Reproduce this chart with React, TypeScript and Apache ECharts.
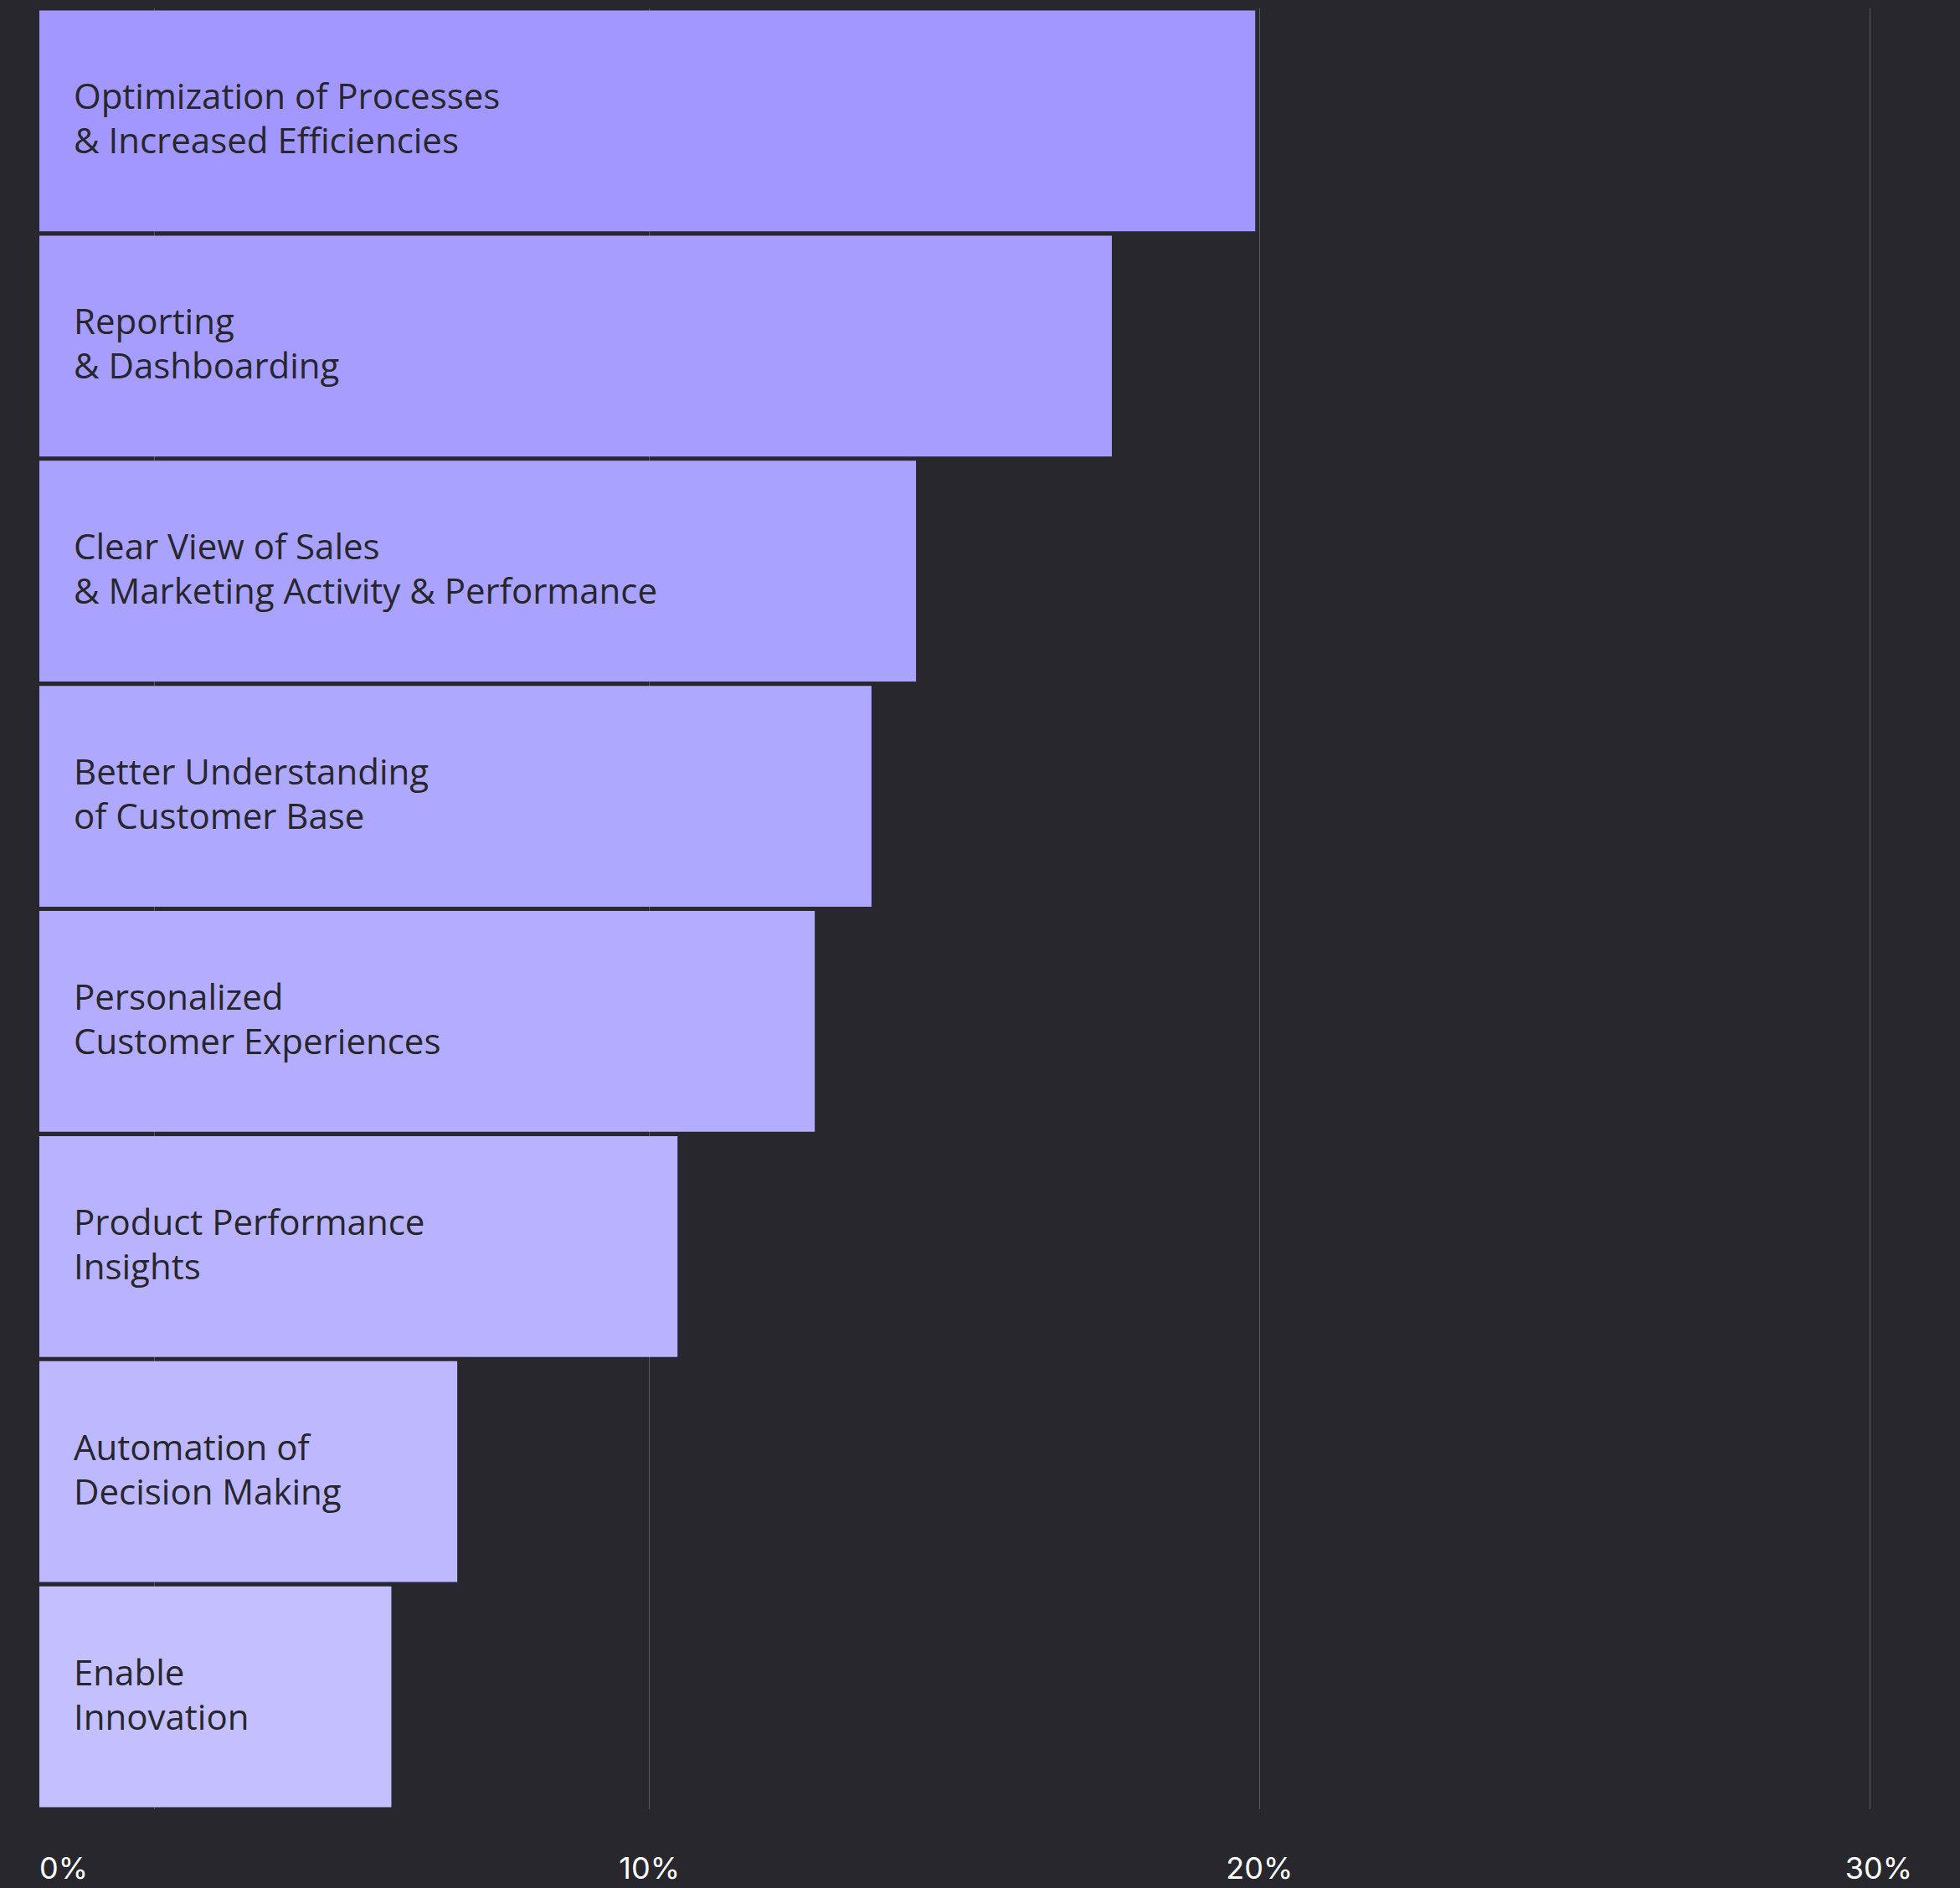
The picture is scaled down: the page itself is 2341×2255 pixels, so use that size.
import React, { useEffect, useRef } from "react";
import * as echarts from "echarts";

const categories = [
  "Optimization of Processes\n& Increased Efficiencies",
  "Reporting\n& Dashboarding",
  "Clear View of Sales\n& Marketing Activity & Performance",
  "Better Understanding\nof Customer Base",
  "Personalized\nCustomer Experiences",
  "Product Performance\nInsights",
  "Automation of\nDecision Making",
  "Enable\nInnovation",
];

const values = [19.93, 17.58, 14.37, 13.64, 12.71, 10.46, 6.85, 5.77];

const barColors = [
  "#a197ff",
  "#a69dff",
  "#aaa2ff",
  "#afa8ff",
  "#b4adff",
  "#b8b2ff",
  "#bdb8ff",
  "#c4bfff",
];

const tickValues = [0, 10, 20, 30];
const extraGridValue = 1.88;

const FONT = "'Open Sans', Inter, 'Noto Sans', sans-serif";

export default function App() {
  const ref = useRef<HTMLDivElement>(null);

  useEffect(() => {
    if (!ref.current) return;
    const chart = echarts.init(ref.current, null, { renderer: "svg" });
    const maxTick = tickValues[tickValues.length - 1];
    chart.setOption({
      animation: false,
      backgroundColor: "#28272d",
      grid: { left: 47, right: 108, top: 10, bottom: 94, containLabel: false },
      xAxis: {
        type: "value",
        min: tickValues[0],
        max: maxTick,
        interval: 10,
        axisLine: { show: false },
        axisTick: { show: false },
        splitLine: {
          show: true,
          showMinLine: false,
          lineStyle: { color: "#5a5a60", width: 1 },
        },
        axisLabel: {
          formatter: (v: number) => (v === maxTick ? `{r|${v}%}` : `${v}%`),
          color: "#ffffff",
          fontSize: 36,
          fontFamily: "Inter, 'Noto Sans', sans-serif",
          margin: 52,
          alignMinLabel: "left",
          alignMaxLabel: "center",
          rich: {
            r: {
              color: "#ffffff",
              fontSize: 36,
              fontFamily: "Inter, 'Noto Sans', sans-serif",
              padding: [0, 0, 0, 22],
            },
          },
        },
      },
      yAxis: {
        type: "category",
        data: categories,
        inverse: true,
        axisLine: { show: false },
        axisTick: { show: false },
        axisLabel: { show: false },
        splitLine: { show: false },
      },
      series: [
        {
          type: "line",
          data: [],
          z: 1,
          silent: true,
          markLine: {
            z: 1,
            silent: true,
            symbol: "none",
            label: { show: false },
            lineStyle: { color: "#5a5a60", width: 1, type: "solid" },
            data: [{ xAxis: extraGridValue }],
          },
        },
        {
          type: "bar",
          z: 3,
          barCategoryGap: "1.86%",
          data: values.map((v, i) => ({
            value: v,
            itemStyle: { color: barColors[i] },
          })),
          label: {
            show: true,
            position: "insideLeft",
            distance: 41,
            offset: [0, -4],
            formatter: "{b}",
            color: "#27262c",
            fontSize: 42,
            lineHeight: 53,
            fontFamily: FONT,
            align: "left",
          },
        },
      ],
    });
    return () => chart.dispose();
  }, []);

  return (
    <div
      ref={ref}
      style={{ position: "fixed", left: 0, top: 0, width: 2341, height: 2255 }}
    />
  );
}
